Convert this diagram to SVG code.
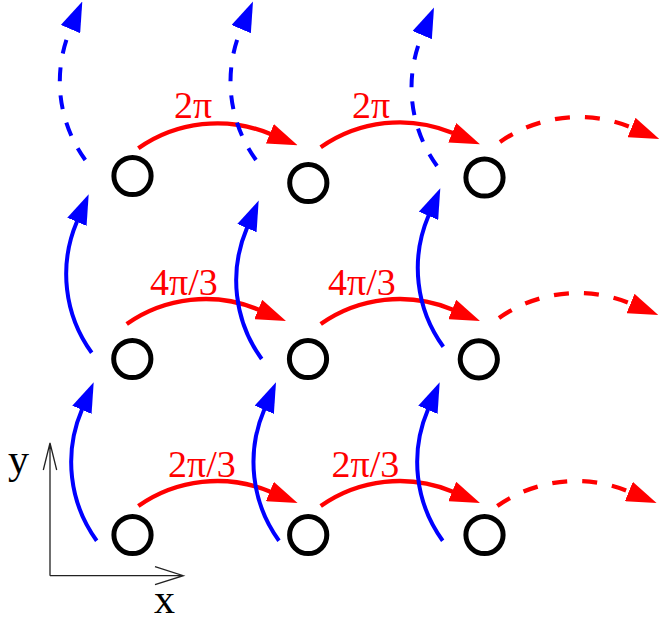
<svg xmlns="http://www.w3.org/2000/svg" width="660" height="620" viewBox="0 0 660 620">
  <style>
    .site { fill: none; stroke: #000; stroke-width: 5; }
    .hop-x { fill: none; stroke: #ff0000; stroke-width: 4.3; marker-end: url(#head-red); }
    .hop-y { fill: none; stroke: #0000ff; stroke-width: 4; marker-end: url(#head-blue); }
    .dash-x { stroke-dasharray: 15 15; }
    .dash-y { stroke-dasharray: 14 14; }
    .phase { font-family: "Liberation Serif", "Times New Roman", serif; font-size: 38px; fill: #ff0000; }
    .axis { fill: none; stroke: #222; stroke-width: 1.3; }
    .axis-label { font-family: "Liberation Serif", "Times New Roman", serif; font-size: 42px; fill: #000; }
  </style>
  <defs>
    <marker id="head-red" markerUnits="userSpaceOnUse" orient="auto" markerWidth="30" markerHeight="21" refX="15" refY="10.5">
      <path d="M0,0 L30,10.5 L0,21 Z" fill="#ff0000" stroke="none"/>
    </marker>
    <marker id="head-blue" markerUnits="userSpaceOnUse" orient="auto" markerWidth="30" markerHeight="21" refX="15" refY="10.5">
      <path d="M0,0 L30,10.5 L0,21 Z" fill="#0000ff" stroke="none"/>
    </marker>
  </defs>

  <!-- hopping connectors: circular arcs ending in a short straight run under the head -->
  <g id="connectors">
    <!-- x-direction hops (red) -->
    <path class="hop-x" d="M138.3,148.3 a137.3,137.3 0 0 1 131.5,-14.5 l13.9,5.7"/>
    <path class="hop-x" d="M320.7,147.3 a137.3,137.3 0 0 1 131.5,-14.5 l13.9,5.7"/>
    <path class="hop-x dash-x" d="M500,142 a137.3,137.3 0 0 1 131.5,-14.5 l13.9,5.7"/>
    <path class="hop-x" d="M126.7,324 a137.3,137.3 0 0 1 131.5,-14.5 l13.9,5.7"/>
    <path class="hop-x" d="M320.7,324 a137.3,137.3 0 0 1 131.5,-14.5 l13.9,5.7"/>
    <path class="hop-x dash-x" d="M499,318 a137.3,137.3 0 0 1 131.5,-14.5 l13.9,5.7"/>
    <path class="hop-x" d="M138.3,506 a137.3,137.3 0 0 1 131.5,-14.5 l13.9,5.7"/>
    <path class="hop-x" d="M320.7,506 a137.3,137.3 0 0 1 131.5,-14.5 l13.9,5.7"/>
    <path class="hop-x dash-x" d="M497.3,506 a137.3,137.3 0 0 1 131.5,-14.5 l13.9,5.7"/>

    <!-- y-direction hops (blue) -->
    <path class="hop-y" d="M96.7,540.7 a133.6,133.6 0 0 1 -14.8,-130.9 l5.9,-13.8"/>
    <path class="hop-y" d="M279,540.7 a133.6,133.6 0 0 1 -14.8,-130.9 l5.9,-13.8"/>
    <path class="hop-y" d="M442.7,540.7 a133.6,133.6 0 0 1 -14.8,-130.9 l5.9,-13.8"/>
    <path class="hop-y" d="M91.7,352.7 a133.6,133.6 0 0 1 -14.8,-130.9 l5.9,-13.8"/>
    <path class="hop-y" d="M261.7,359 a133.6,133.6 0 0 1 -14.8,-130.9 l5.9,-13.8"/>
    <path class="hop-y" d="M443.3,346.7 a133.6,133.6 0 0 1 -14.8,-130.9 l5.9,-13.8"/>
    <path class="hop-y dash-y" d="M85.3,160 a133.6,133.6 0 0 1 -14.8,-130.9 l5.9,-13.8"/>
    <path class="hop-y dash-y" d="M256,160 a133.6,133.6 0 0 1 -14.8,-130.9 l5.9,-13.8"/>
    <path class="hop-y dash-y" d="M437,166 a133.6,133.6 0 0 1 -14.8,-130.9 l5.9,-13.8"/>
  </g>

  <!-- phase labels -->
  <g id="labels">
    <text class="phase" x="174" y="118">2π</text>
    <text class="phase" x="352" y="118">2π</text>
    <text class="phase" x="150" y="295">4π/3</text>
    <text class="phase" x="328" y="295">4π/3</text>
    <text class="phase" x="168" y="476.5">2π/3</text>
    <text class="phase" x="331.5" y="476.5">2π/3</text>
  </g>

  <!-- lattice sites -->
  <g id="site-r3c1"><circle class="site" cx="132.5" cy="176" r="18.6"/></g>
  <g id="site-r3c2"><circle class="site" cx="308.3" cy="183" r="18.6"/></g>
  <g id="site-r3c3"><circle class="site" cx="484.5" cy="177.5" r="18.6"/></g>
  <g id="site-r2c1"><circle class="site" cx="132.3" cy="359" r="18.6"/></g>
  <g id="site-r2c2"><circle class="site" cx="308" cy="359" r="18.6"/></g>
  <g id="site-r2c3"><circle class="site" cx="478.8" cy="359.3" r="18.6"/></g>
  <g id="site-r1c1"><circle class="site" cx="132.5" cy="535" r="18.6"/></g>
  <g id="site-r1c2"><circle class="site" cx="308.2" cy="535" r="18.6"/></g>
  <g id="site-r1c3"><circle class="site" cx="484.5" cy="535" r="18.6"/></g>

  <!-- coordinate axes -->
  <g id="axes">
    <path class="axis" d="M50,575.7 L50,443 M43.3,470 L50,443 L56.7,470"/>
    <path class="axis" d="M50,575.7 L183.3,575.7 M155,566.7 L183.3,575.7 L155,584.7"/>
    <text class="axis-label" x="8" y="473">y</text>
    <text class="axis-label" x="154" y="613">x</text>
  </g>
</svg>
